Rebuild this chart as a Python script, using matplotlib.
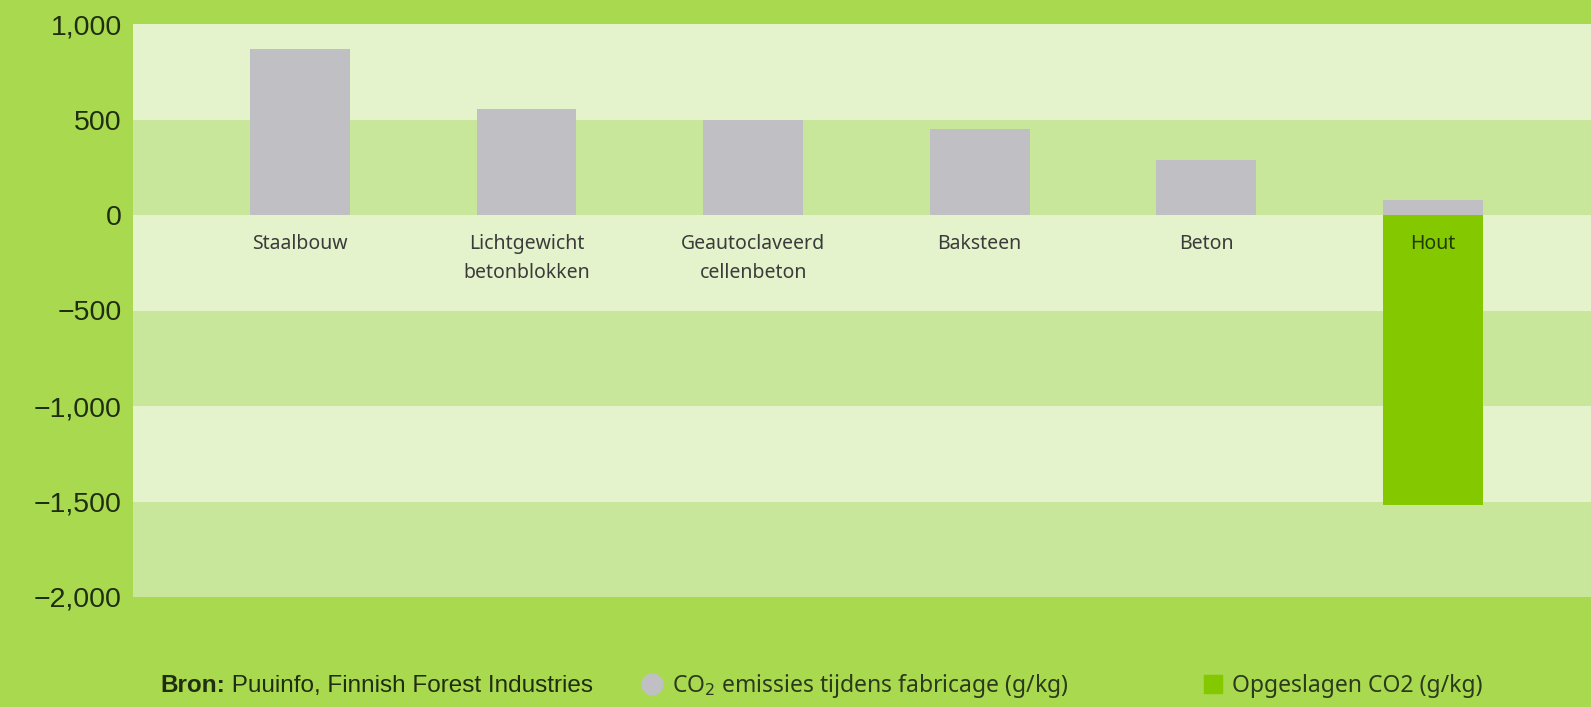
import matplotlib.pyplot as plt
from matplotlib.lines import Line2D

# data
categories = ['Staalbouw', 'Lichtgewicht\nbetonblokken', 'Geautoclaveerd\ncellenbeton',
              'Baksteen', 'Beton', 'Hout']
emissions = [870, 555, 500, 450, 290, 80]      # CO2 emissies tijdens fabricage (g/kg)
stored = [0, 0, 0, 0, 0, -1520]                # Opgeslagen CO2 (g/kg)
yticks = [1000, 500, 0, -500, -1000, -1500, -2000]

bg = '#a9d94f'
band_light = '#e4f3cb'
band_mid = '#c9e79a'
grey = '#c0c0c4'
green = '#84c800'

fig = plt.figure(figsize=(15.91, 7.07), dpi=100, facecolor=bg)
ax = fig.add_axes([133 / 1591, 1 - 597 / 707, 1 - 133 / 1591, (597 - 24) / 707])
ax.set_facecolor(bg)

# alternating horizontal bands
for i in range(len(yticks) - 1):
    ax.axhspan(yticks[i + 1], yticks[i], color=band_light if i % 2 == 0 else band_mid,
               lw=0, zorder=0)

x = list(range(len(categories)))
ax.bar(x, emissions, width=0.44, color=grey, zorder=2)
hout = [i for i, v in enumerate(stored) if v != 0]
ax.bar(hout, [stored[i] for i in hout], width=0.44, color=green, zorder=2)

ax.set_xlim(-0.737, 5.698)
ax.set_ylim(-2000, 1000)
ax.set_xticks([])
ax.set_yticks(yticks)
ax.set_yticklabels([f'{v:,}'.replace('-', '\u2212') for v in yticks],
                   fontsize=20.5, color='#1f2e10', family='Liberation Sans')
ax.tick_params(axis='y', length=0, pad=8)
for s in ax.spines.values():
    s.set_visible(False)

for i, lab in enumerate(categories):
    col = '#1f3a05' if stored[i] != 0 else '#3b3b3b'
    ax.annotate(lab, xy=(i, 0), xytext=(0, -14), textcoords='offset points',
                ha='center', va='top', fontsize=14, color=col, family='Noto Sans',
                linespacing=1.55)

# footer: source + legend
bron = fig.text(160 / 1591, 1 - 686 / 707, 'Bron:', fontsize=17.5, fontweight='bold',
                color='#1f2e10', va='center', family='Liberation Sans')
fig.add_artist(plt.Annotation(' Puuinfo, Finnish Forest Industries', xy=(1, 0.5),
                              xycoords=bron, va='center', ha='left', fontsize=17.5,
                              color='#1f2e10', family='Liberation Sans'))
handles = [Line2D([], [], marker='o', ls='', color=grey, markersize=15),
           Line2D([], [], marker='s', ls='', color=green, markersize=13)]
fig.legend(handles, ['CO$_2$ emissies tijdens fabricage (g/kg)', 'Opgeslagen CO2 (g/kg)'],
           loc='center left', bbox_to_anchor=(618 / 1591, 1 - 686 / 707), ncol=2,
           frameon=False, handletextpad=0.25, columnspacing=5.7, handlelength=1.2,
           prop={'family': 'Noto Sans', 'size': 16.5}, labelcolor='#2b3a1c')

fig.savefig('out.png', dpi=100, facecolor=bg)
